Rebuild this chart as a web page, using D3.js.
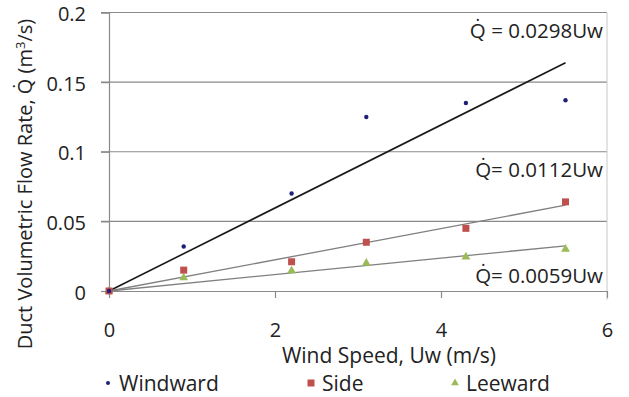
<!DOCTYPE html>
<html>
<head>
<meta charset="utf-8">
<script src="https://cdn.jsdelivr.net/npm/d3@7"></script>
<style>
  body { margin: 0; background: #fff; }
  svg { display: block; }
</style>
</head>
<body>
<script>
const windSpeed = [0, 0.9, 2.2, 3.1, 4.3, 5.5];
const windward = [0, 0.032, 0.070, 0.125, 0.135, 0.137];
const side = [0, 0.015, 0.021, 0.035, 0.045, 0.064];
const leeward = [0, 0.0095, 0.0145, 0.020, 0.0245, 0.030];
const slopes = [0.0298, 0.0112, 0.0059];
const xTicks = [0, 2, 4, 6];
const yTicks = [0, 0.05, 0.1, 0.15, 0.2];

const width = 629, height = 397;
const font = '"Open Sans", sans-serif';

const svg = d3.select('body').append('svg')
  .attr('width', width)
  .attr('height', height)
  .style('font-family', font);

const x = d3.scaleLinear().domain([0, 6]).range([109, 607]);
const y = d3.scaleLinear().domain([0, 0.2]).range([291, 12.5]);

// grid
svg.append('g')
  .selectAll('line')
  .data(yTicks.filter(d => d > 0))
  .join('line')
  .attr('x1', 101).attr('x2', x(6))
  .attr('y1', d => y(d)).attr('y2', d => y(d))
  .attr('stroke', '#8a8a8a')
  .attr('stroke-width', 1.2);

// plot border (right)
svg.append('line')
  .attr('x1', x(6)).attr('x2', x(6))
  .attr('y1', y(0.2)).attr('y2', y(0) + 9)
  .attr('stroke', '#c8c8c8');

// y axis
const yAxis = svg.append('g')
  .attr('transform', `translate(${x(0)},0)`)
  .call(d3.axisLeft(y).tickValues(yTicks).tickSize(8).tickFormat(d3.format('')));
yAxis.select('.domain').attr('stroke', '#8a8a8a').attr('stroke-width', 1.2);
yAxis.selectAll('.tick line').attr('stroke', '#8a8a8a').attr('stroke-width', 1.2);
yAxis.selectAll('.tick text')
  .attr('x', -23)
  .attr('dy', '0.4em')
  .style('font-family', font)
  .style('font-size', '20px')
  .attr('fill', '#222');

// x axis
const xAxis = svg.append('g')
  .attr('transform', `translate(0,${y(0)})`)
  .call(d3.axisBottom(x).tickValues(xTicks).tickSize(7).tickSizeOuter(0).tickFormat(d3.format('d')));
xAxis.select('.domain').attr('stroke', '#8a8a8a').attr('stroke-width', 1.2);
xAxis.selectAll('.tick line').attr('stroke', '#8a8a8a').attr('stroke-width', 1.2);
xAxis.selectAll('.tick text')
  .attr('y', 46)
  .attr('dy', 0)
  .style('font-family', font)
  .style('font-size', '20px')
  .attr('fill', '#222');

// trend lines
const lineColors = ['#1a1a1a', '#808080', '#808080'];
const lineWidths = [1.6, 1.3, 1.3];
svg.append('g')
  .selectAll('line')
  .data(slopes)
  .join('line')
  .attr('x1', x(0)).attr('y1', y(0))
  .attr('x2', x(5.5)).attr('y2', d => y(d * 5.5))
  .attr('stroke', (d, i) => lineColors[i])
  .attr('stroke-width', (d, i) => lineWidths[i]);

// points
const ww = windSpeed.map((u, i) => [u, windward[i]]);
const sd = windSpeed.map((u, i) => [u, side[i]]);
const lw = windSpeed.map((u, i) => [u, leeward[i]]);

svg.append('g').selectAll('path')
  .data(lw).join('path')
  .attr('d', d3.symbol(d3.symbolTriangle, 34))
  .attr('transform', d => `translate(${x(d[0])},${y(d[1])})`)
  .attr('fill', '#9bbb59');

svg.append('g').selectAll('rect')
  .data(sd).join('rect')
  .attr('x', d => x(d[0]) - 3.5).attr('y', d => y(d[1]) - 3.5)
  .attr('width', 7).attr('height', 7)
  .attr('fill', '#c0504d');

svg.append('g').selectAll('circle')
  .data(ww).join('circle')
  .attr('cx', d => x(d[0])).attr('cy', d => y(d[1]))
  .attr('r', 2.2)
  .attr('fill', '#1f1f78');

// equation labels
const eqLabels = [
  { t: ' = 0.0298Uw', ax: 603, ay: 38 },
  { t: '= 0.0112Uw', ax: 603, ay: 177 },
  { t: '= 0.0059Uw', ax: 603, ay: 283 },
];
svg.append('g').selectAll('text')
  .data(eqLabels).join('text')
  .attr('x', d => d.ax).attr('y', d => d.ay)
  .attr('text-anchor', 'end')
  .style('font-size', '20.5px')
  .attr('fill', '#222')
  .text(d => 'Q\u0307' + d.t);

// axis titles
svg.append('text')
  .attr('x', 389).attr('y', 363)
  .attr('text-anchor', 'middle')
  .style('font-size', '21px')
  .attr('fill', '#222')
  .text('Wind Speed, Uw (m/s)');

const yt = svg.append('text')
  .attr('transform', 'translate(32,184) rotate(-90)')
  .attr('text-anchor', 'middle')
  .style('font-size', '20px')
  .attr('fill', '#222');
yt.append('tspan').text('Duct Volumetric Flow Rate, Q\u0307 (m');
yt.append('tspan').attr('dy', -7).style('font-size', '13px').text('3');
yt.append('tspan').attr('dy', 7).text('/s)');

// legend
const legend = [
  { name: 'Windward', lx: 108, color: '#1f1f78', kind: 'dot' },
  { name: 'Side', lx: 311, color: '#c0504d', kind: 'square' },
  { name: 'Leeward', lx: 455, color: '#9bbb59', kind: 'tri' },
];
const lg = svg.append('g').selectAll('g')
  .data(legend).join('g')
  .attr('transform', d => `translate(${d.lx},383)`);
lg.filter(d => d.kind === 'dot').append('circle').attr('r', 2).attr('fill', d => d.color);
lg.filter(d => d.kind === 'square').append('rect')
  .attr('x', -3.5).attr('y', -3.5).attr('width', 7).attr('height', 7).attr('fill', d => d.color);
lg.filter(d => d.kind === 'tri').append('path')
  .attr('d', d3.symbol(d3.symbolTriangle, 26)).attr('fill', d => d.color);
lg.append('text')
  .attr('x', 11).attr('dy', '0.36em')
  .style('font-size', '21px')
  .attr('fill', '#222')
  .text(d => d.name);
</script>
</body>
</html>
